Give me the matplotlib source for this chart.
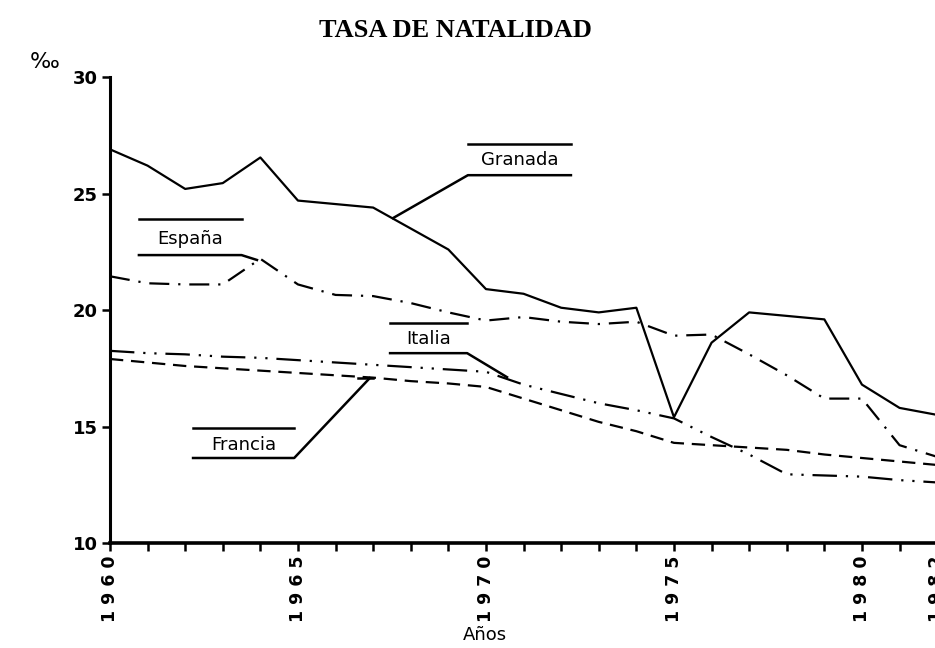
import numpy as np
import matplotlib.pyplot as plt

# tasa de natalidad (por mil), 1960-1982
years = np.arange(1960, 1983)
granada = [26.9, 26.2, 25.2, 25.45, 26.55, 24.7, 24.55, 24.4, 23.5, 22.6, 20.9, 20.7,
           20.1, 19.9, 20.1, 15.4, 18.6, 19.9, 19.75, 19.6, 16.8, 15.8, 15.5]
espana = [21.45, 21.15, 21.1, 21.1, 22.2, 21.1, 20.65, 20.6, 20.3, 19.9, 19.55, 19.7,
          19.5, 19.4, 19.5, 18.9, 18.95, 18.1, 17.2, 16.2, 16.2, 14.2, 13.7]
italia = [18.25, 18.15, 18.1, 18.0, 17.95, 17.85, 17.75, 17.65, 17.55, 17.45, 17.35, 16.8,
          16.4, 16.0, 15.7, 15.35, 14.55, 13.8, 12.95, 12.9, 12.85, 12.7, 12.6]
francia = [17.9, 17.75, 17.6, 17.5, 17.4, 17.3, 17.2, 17.1, 16.95, 16.85, 16.7, 16.2,
           15.7, 15.2, 14.8, 14.3, 14.2, 14.1, 14.0, 13.8, 13.65, 13.5, 13.35]

xticks = [1960, 1965, 1970, 1975, 1980, 1982]
yticks = [10, 15, 20, 25, 30]

fig = plt.figure(figsize=(9.35, 6.48), dpi=100)
ax = fig.add_axes([0.1176, 0.162, 940 / 935, 0.719])

lw = 1.6
ax.plot(years, granada, color='black', lw=lw)
ax.plot(years, espana, color='black', lw=lw, dashes=(9, 4, 1, 4))
ax.plot(years, italia, color='black', lw=lw, dashes=(11, 4, 1, 4, 1, 4))
ax.plot(years, francia, color='black', lw=lw, dashes=(6, 3.5))

ax.set_xlim(1960, 1985)
ax.set_ylim(10, 30)
for s in ['top', 'right']:
    ax.spines[s].set_visible(False)
ax.spines['bottom'].set_linewidth(2.6)
ax.spines['left'].set_linewidth(2.2)

ax.set_yticks(yticks)
ax.set_yticklabels([str(v) for v in yticks], fontsize=13, fontweight='bold')
ax.set_xticks(xticks)
ax.set_xticklabels([' '.join(str(v)) for v in xticks], rotation=90,
                   fontsize=12.5, fontweight='bold')
ax.set_xticks(years, minor=True)
ax.tick_params(axis='both', which='both', direction='out', length=6, width=1.8, pad=3)
ax.tick_params(axis='y', which='minor', length=0)


def etiqueta(texto, x0, x1, ytop, ybot, ytxt, leader, desde_izq=False):
    kw = dict(color='black', lw=1.8, clip_on=False)
    ax.plot([x0, x1], [ytop, ytop], **kw)
    lx, ly = leader
    if desde_izq:
        ax.plot([lx, x0, x1], [ly, ybot, ybot], **kw)
    else:
        ax.plot([x0, x1, lx], [ybot, ybot, ly], **kw)
    ax.text((x0 + x1) / 2, ytxt, texto, ha='center', va='center', fontsize=13)


etiqueta('Granada', 1969.52, 1972.26, 27.12, 25.79, 26.44, (1967.53, 23.95), desde_izq=True)
etiqueta('España', 1960.77, 1963.5, 23.9, 22.36, 23.05, (1963.91, 22.15))
etiqueta('Italia', 1967.45, 1969.5, 19.44, 18.15, 18.76, (1970.56, 17.12))
etiqueta('Francia', 1962.21, 1964.9, 14.94, 13.65, 14.2, (1966.91, 17.08))
ax.plot([1966.6, 1967.0], [17.08, 17.08], color='black', lw=1.8)

fig.text(0.487, 0.953, 'TASA DE NATALIDAD', ha='center', va='center',
         fontsize=19, fontweight='bold', family='Liberation Serif')
fig.text(0.048, 0.904, '‰', ha='center', va='center', fontsize=16)
fig.text(0.519, 0.02, 'Años', ha='center', va='center', fontsize=13)

fig.savefig('out.png', dpi=100)
